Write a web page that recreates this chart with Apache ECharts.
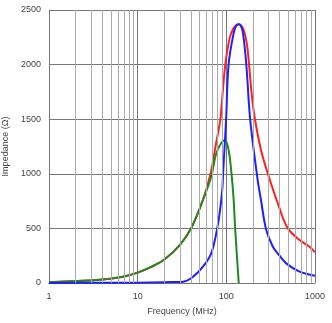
<!DOCTYPE html>
<html><head><meta charset="utf-8">
<script src="https://cdn.jsdelivr.net/npm/echarts@6/dist/echarts.min.js"></script>
<style>html,body{margin:0;padding:0;background:#fff}#c{width:332px;height:323px}</style>
</head><body><div id="c"></div>
<script>
// Frequency (MHz) vs impedance (Ohm)
const zFreq = [1,2,4,7,10,14,20,30,40,54.4,66.4,75.5,85.5,88,97.3,108.8,120,130,138,148,158,170.4,180.4,195,211,246,294,398,494,669,867,1000];
const zVals = [8,18,32,60,95,145,215,350,500,760,1000,1250,1493,1600,2000,2240,2330,2362,2370,2355,2310,2190,2000,1700,1493,1218,1000,684,500,394,332,280];
const rFreq = [1,5,10,20,32.6,42.3,54.5,67.5,77,84,90,91.9,99.4,106,121,130,138,146,154,168,186,225,246,281,335,398,473,669,1000];
const rVals = [0,2,3,8,12,58,149,272,455,638,852,1000,1500,2000,2290,2360,2370,2355,2290,2000,1493,950,760,490,332,250,180,104,67];
const xFreq = [1,2,3,4,5,7,10,14,20,30,40,54.4,67.5,77,88,96.4,106,114.6,121,126,138];
const xVals = [8,18,25,32,40,60,95,145,215,350,500,760,973,1188,1285,1310,1218,995,760,485,0];
const yTicks = [0,500,1000,1500,2000,2500];
const minorLines = [2,3,4,5,6,7,8,9,20,30,40,50,60,70,80,90,200,300,400,500,600,700,800,900];

const pairs = (a, b) => a.map((v, i) => [v, b[i]]);
const font = '"Liberation Sans", Arial, sans-serif';
const chart = echarts.init(document.getElementById('c'), null, {renderer: 'canvas'});
chart.setOption({
  animation: false,
  grid: {left: 49, right: 17, top: 10, bottom: 40, containLabel: false, outerBoundsMode: 'none'},
  xAxis: {
    type: 'log', logBase: 10, min: 1, max: 1000,
    name: 'Frequency (MHz)', nameLocation: 'middle', nameGap: 24,
    nameTextStyle: {fontFamily: font, fontSize: 9, color: '#444'},
    axisLine: {lineStyle: {color: '#777', width: 1}},
    axisTick: {show: false},
    axisLabel: {fontFamily: font, fontSize: 9, color: '#444', margin: 9, formatter: v => String(Math.round(v))},
    splitLine: {show: true, lineStyle: {color: '#777', width: 1}}
  },
  yAxis: {
    type: 'value', min: yTicks[0], max: yTicks[yTicks.length - 1], interval: 500,
    name: 'Impedance (Ω)', nameLocation: 'middle', nameGap: 25, nameRotate: 90,
    nameTextStyle: {fontFamily: font, fontSize: 9, color: '#444'},
    axisLine: {show: true, lineStyle: {color: '#777', width: 1}},
    axisTick: {show: false},
    axisLabel: {fontFamily: font, fontSize: 9, color: '#444', margin: 8, formatter: v => String(v)},
    splitLine: {show: true, lineStyle: {color: '#777', width: 1}}
  },
  series: [
    {type: 'line', data: [], silent: true,
     markLine: {silent: true, symbol: 'none', label: {show: false},
       lineStyle: {color: '#aaa', width: 1, type: 'solid'},
       data: minorLines.map(v => ({xAxis: v}))}},
    {type: 'line', name: 'X', data: pairs(xFreq, xVals), showSymbol: false, smooth: 0.35,
     lineStyle: {color: '#1f8a1f', width: 2}, z: 3},
    {type: 'line', name: 'Z', data: pairs(zFreq, zVals), showSymbol: false, smooth: 0.35,
     lineStyle: {color: '#ff2020', width: 2}, z: 2},
    {type: 'line', name: 'R', data: pairs(rFreq, rVals), showSymbol: false, smooth: 0.35,
     lineStyle: {color: '#2020ff', width: 2}, z: 4}
  ]
});
</script></body></html>
